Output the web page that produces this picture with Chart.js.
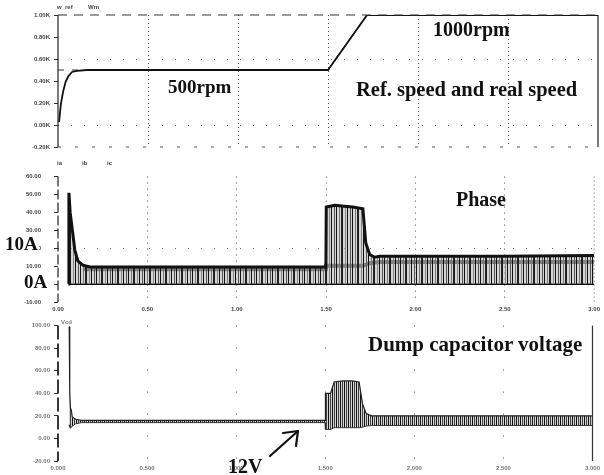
<!DOCTYPE html>
<html><head><meta charset="utf-8">
<script src="https://cdn.jsdelivr.net/npm/chart.js@4.4.0/dist/chart.umd.min.js"></script>
<style>
html,body{margin:0;padding:0;background:#fff;}
#wrap{position:relative;width:604px;height:475px;overflow:hidden;background:#fff;}
canvas{position:absolute;left:0;}
.t{position:absolute;font-family:"Liberation Serif","Times New Roman",serif;font-weight:bold;color:#111;white-space:nowrap;line-height:1;}
.s{position:absolute;font-family:"Liberation Sans",Arial,sans-serif;font-size:6px;font-weight:bold;color:#444;line-height:1;white-space:nowrap;}
</style></head><body>
<div id="wrap">
<canvas id="c1" width="604" height="160" style="top:0px"></canvas>
<canvas id="c2" width="604" height="160" style="top:160px"></canvas>
<canvas id="c3" width="604" height="157" style="top:318px"></canvas>

<div class="s" style="left:57px;top:4px;">w_ref</div>
<div class="s" style="left:88px;top:4px;">Wm</div>
<div class="s" style="left:57px;top:160px;">ia</div>
<div class="s" style="left:82px;top:160px;">ib</div>
<div class="s" style="left:107px;top:160px;">ic</div>
<div class="s" style="left:61px;top:319px;color:#777;">Vcd</div>

<div class="t" style="left:433px;top:19px;font-size:20px;">1000rpm</div>
<div class="t" style="left:168px;top:77px;font-size:19px;">500rpm</div>
<div class="t" style="left:356px;top:79px;font-size:20.5px;">Ref. speed and real speed</div>
<div class="t" style="left:456px;top:189px;font-size:20px;">Phase</div>
<div class="t" style="left:368px;top:334px;font-size:21px;">Dump capacitor voltage</div>
<div class="t" style="left:5px;top:234px;font-size:19px;background:#fff;padding-right:1px;">10A</div>
<div class="t" style="left:24px;top:272px;font-size:19px;background:#fff;">0A</div>
<div class="t" style="left:228px;top:456px;font-size:20px;">12V</div>

<svg style="position:absolute;left:0;top:0;" width="604" height="475">
  <g stroke="#111" stroke-width="2.2" fill="none" stroke-linecap="round">
    <line x1="270" y1="456" x2="298" y2="431"/>
    <line x1="298" y1="431" x2="283" y2="433"/>
    <line x1="298" y1="431" x2="296" y2="446"/>
  </g>
</svg>
</div>
<script>
// ---------- DATA ----------
const timeTicks = [0, 0.5, 1.0, 1.5, 2.0, 2.5, 3.0];

// Panel 1: speed (rpm)
const speedTime = [0.006, 0.016, 0.028, 0.042, 0.058, 0.078, 0.106, 0.160, 1.500, 1.717, 3.000];
const speedReal = [27, 190, 300, 390, 445, 482, 493, 500, 500, 1000, 1000];
const refTime   = [0.000, 1.500, 1.717, 3.000];
const speedRef  = [500, 500, 1000, 1000];

// Panel 2: phase currents (A)
const iTime  = [0.058, 0.061, 0.068, 0.083, 0.094, 0.111, 0.139, 0.178, 0.500, 1.000, 1.499, 1.501, 1.550, 1.600, 1.650, 1.706, 1.722, 1.744, 1.772, 1.800, 2.000, 2.500, 3.000];
const iPeak  = [0, 51, 40, 28, 19, 13, 10.6, 9.6, 9.6, 9.6, 9.6, 43, 44, 43.5, 43, 42, 23, 16.5, 15, 15.5, 15.5, 15.5, 16];
const bTime  = [0.139, 0.500, 1.000, 1.499, 1.501, 1.706, 1.750, 1.800, 2.500, 3.000];
const bVal   = [8.3, 8.3, 8.3, 8.3, 10.2, 10.2, 11.8, 12.3, 12.3, 12.3];
const cTime  = [0.061, 3.000];
const cVal   = [0, 0];

// Panel 3: dump capacitor voltage (V)
const vTime = [0.061, 0.063, 0.066, 0.070, 0.075, 0.080, 0.100, 0.130, 0.500, 1.000, 1.499, 1.501, 1.530, 1.550, 1.600, 1.650, 1.690, 1.710, 1.730, 1.760, 1.800, 2.500, 3.000];
const vMax  = [99, 99, 40, 27, 25, 19, 17, 16, 16, 16, 16, 40, 40, 50, 51, 51, 50, 30, 22, 20, 20, 20, 20];
const vMin  = [12, 12, 10, 9, 10, 11, 13, 14, 14, 14, 14, 8, 8, 9.5, 9.5, 9.5, 9.5, 10, 11, 11.5, 11.5, 11.5, 11.5];

// ---------- helpers ----------
const pts = (xs, ys) => xs.map((x, i) => ({x: x, y: ys[i]}));
function stripes(w, lines, bg) {
  const c = document.createElement('canvas'); c.width = w; c.height = 4;
  const g = c.getContext('2d');
  if (bg) { g.fillStyle = bg; g.fillRect(0, 0, w, 4); }
  lines.forEach(([x, lw, col]) => { g.fillStyle = col; g.fillRect(x, 0, lw, 4); });
  return g.createPattern(c, 'repeat');
}
const curPattern = stripes(16, [[0,1,'#111'],[3,1,'#777'],[5,2,'#222'],[9,1,'#888'],[11,1,'#111'],[14,1,'#555']], 'rgba(190,190,190,0.65)');
const volPattern = stripes(4, [[0,1,'#111'],[2,1,'#444']], 'rgba(170,170,170,0.5)');

const frame = {
  id: 'frame',
  afterDraw(chart, args, o) {
    const {ctx, chartArea: a} = chart;
    const side = (s, x1, y1, x2, y2) => {
      if (!s) return;
      ctx.save(); ctx.strokeStyle = s.c || '#222'; ctx.lineWidth = s.w || 1;
      ctx.setLineDash(s.d || []); ctx.beginPath(); ctx.moveTo(x1, y1); ctx.lineTo(x2, y2); ctx.stroke(); ctx.restore();
    };
    side(o.top, a.left, a.top, a.right, a.top);
    side(o.bottom, a.left, a.bottom, a.right, a.bottom);
    side(o.left, a.left, a.top, a.left, a.bottom);
    side(o.right, a.right, a.top, a.right, a.bottom);
  }
};

const tickFont = {family: 'Liberation Sans', size: 6, weight: 'bold'};
function xScale(showTicks, dash) {
  return {
    type: 'linear', min: 0, max: 3,
    afterBuildTicks: s => { s.ticks = timeTicks.map(v => ({value: v})); },
    ticks: {display: showTicks, font: tickFont, color: '#444', padding: 4, maxRotation: 0,
            callback: v => Number(v).toFixed(2)},
    grid: {color: c => (c.tick && c.tick.value > 0.01 && c.tick.value < 2.99) ? '#555' : 'rgba(0,0,0,0)',
           lineWidth: 1, drawTicks: false},
    border: {display: false, dash: dash}
  };
}
function yScale(min, max, step, fmt, gridVals, pad, h, col) {
  return {
    type: 'linear', min: min, max: max,
    afterFit: s => { s.width = 58; },
    ticks: {stepSize: step, font: tickFont, color: col || '#444', padding: pad, callback: fmt},
    grid: {color: c => (c.tick && gridVals.indexOf(Math.round(c.tick.value)) >= 0) ? '#666' : 'rgba(0,0,0,0)',
           tickColor: '#333', tickLength: 4, lineWidth: 1},
    border: {display: false, dash: [1, 12]}
  };
}
const base = (pad, frameOpts) => ({
  responsive: false, animation: false, devicePixelRatio: 1,
  layout: {padding: pad},
  plugins: {legend: {display: false}, tooltip: {enabled: false}, frame: frameOpts},
  elements: {point: {radius: 0}, line: {tension: 0}}
});

// ---------- Panel 1 ----------
const o1 = base({top: 15, bottom: 13, left: 0, right: 6},
  {left: {c: '#222', w: 1.2}, right: {c: '#222', w: 1.2}, top: {c: '#333', w: 1.2, d: [9, 7]}, bottom: {c: '#555', w: 1, d: [3, 14]}});
o1.scales = {x: xScale(false, [1, 3]), y: yScale(-200, 1000, 200, v => (v / 1000).toFixed(2) + 'K', [600, 0], 4)};
new Chart(document.getElementById('c1'), {
  type: 'line',
  data: {datasets: [
    {label: 'Wm', data: pts(speedTime, speedReal), borderColor: '#111', borderWidth: 1.8, fill: false},
    {label: 'w_ref', data: pts(refTime, speedRef), borderColor: '#333', borderWidth: 1.2, borderDash: [6, 8], fill: false}
  ]},
  options: o1, plugins: [frame]
});

// ---------- Panel 2 ----------
const o2 = base({top: 10, bottom: 0, left: 0, right: 6},
  {left: {c: '#222', w: 1.2, d: [10, 3]}, right: {c: '#555', w: 1, d: [1, 3]}});
o2.scales = {x: xScale(true, [1, 5]), y: yScale(-10, 60, 10, v => Number(v).toFixed(2), [20], 13)};
o2.scales.x.afterFit = s => { s.height = 18; };
new Chart(document.getElementById('c2'), {
  type: 'line',
  data: {datasets: [
    {label: 'ia', data: pts(iTime, iPeak), borderColor: '#111', borderWidth: 3, fill: 'origin', backgroundColor: curPattern},
    {label: 'ib', data: pts(bTime, bVal), borderColor: '#111', borderWidth: 4, fill: false},
    {label: 'ic', data: pts(cTime, cVal), borderColor: '#111', borderWidth: 2, fill: false}
  ]},
  options: o2, plugins: [frame]
});

// ---------- Panel 3 ----------
const o3 = base({top: 7, bottom: 0, left: 0, right: 6},
  {left: {c: '#222', w: 1.8, d: [14, 4]}, right: {c: '#333', w: 1.2}});
o3.scales = {x: xScale(true, [1, 21]), y: yScale(-20, 100, 20, v => Number(v).toFixed(2), [], 4, 0, '#777')};
o3.scales.x.ticks.color = '#777';
o3.scales.x.ticks.callback = v => Number(v).toFixed(3);
o3.scales.x.afterFit = s => { s.height = 14; };
new Chart(document.getElementById('c3'), {
  type: 'line',
  data: {datasets: [
    {label: 'Vcd min', data: pts(vTime, vMin), borderColor: '#333', borderWidth: 1, fill: false},
    {label: 'Vcd', data: pts(vTime, vMax), borderColor: '#222', borderWidth: 1.2, fill: '-1', backgroundColor: volPattern}
  ]},
  options: o3, plugins: [frame]
});
</script>
</body></html>
